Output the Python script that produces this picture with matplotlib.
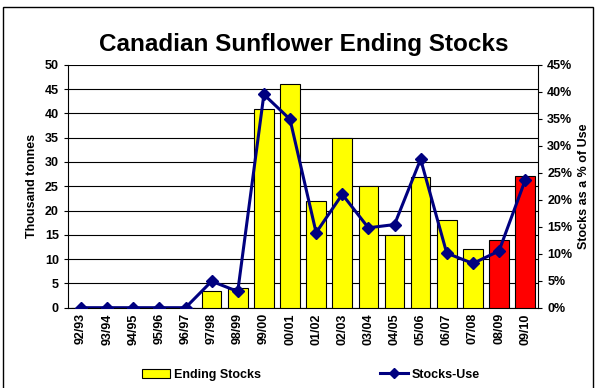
import matplotlib.pyplot as plt
from matplotlib.patches import Rectangle
from matplotlib.ticker import PercentFormatter

plt.rcParams['font.family'] = ['Liberation Sans', 'DejaVu Sans']
plt.rcParams['font.weight'] = 'bold'

# crop years, ending stocks (thousand tonnes) and stocks-to-use (%)
years = ['92/93', '93/94', '94/95', '95/96', '96/97', '97/98', '98/99', '99/00',
         '00/01', '01/02', '02/03', '03/04', '04/05', '05/06', '06/07', '07/08',
         '08/09', '09/10']
stocks = [0, 0, 0, 0, 0, 3.5, 4, 41, 46, 22, 35, 25, 15, 27, 18, 12, 14, 27.2]
stocks_use = [0, 0, 0, 0, 0, 4.9, 3.0, 39.5, 34.9, 13.9, 21.0, 14.8, 15.4,
              27.5, 10.1, 8.2, 10.5, 23.6]
forecast = ['08/09', '09/10']

bar_colors = ['red' if y in forecast else 'yellow' for y in years]

fig = plt.figure(figsize=(5.96, 3.88), dpi=100)
ax = fig.add_axes([0.114, 0.207, 0.789, 0.626])

x = range(len(years))
bars = ax.bar(x, stocks, width=0.75, color=bar_colors, edgecolor='black',
              linewidth=0.8, zorder=3)
ax.set_xlim(-0.5, len(years) - 0.5)
ax.set_ylim(0, 50)
ax.set_yticks(range(0, 51, 5))
ax.grid(axis='y', color='black', linewidth=0.8, zorder=0)
ax.set_xticks(list(x))
ax.set_xticklabels(years, rotation=90, fontsize=9, fontweight='bold')
ax.tick_params(axis='x', length=0, pad=4)
ax.tick_params(axis='y', labelsize=9, length=3, direction='out')
ax.set_ylabel('Thousand tonnes', fontsize=9, fontweight='bold', labelpad=5)
for s in ['top', 'right']:
    ax.spines[s].set_visible(False)
ax.spines['left'].set_linewidth(0.8)
ax.spines['bottom'].set_linewidth(0.8)

ax2 = ax.twinx()
line, = ax2.plot(x, stocks_use, color='#000080', linewidth=2.2, marker='D',
                 markersize=6.5, zorder=4)
ax2.set_ylim(0, 45)
ax2.set_yticks(range(0, 46, 5))
ax2.yaxis.set_major_formatter(PercentFormatter(decimals=0))
ax2.tick_params(axis='y', labelsize=9, length=3, direction='out')
ax2.set_ylabel('Stocks as a % of Use', fontsize=9, fontweight='bold', labelpad=4)
for s in ['top', 'left', 'bottom']:
    ax2.spines[s].set_visible(False)
ax2.spines['right'].set_linewidth(0.8)

# make sure every tick label is drawn bold
for lbl in ax.get_yticklabels() + ax2.get_yticklabels():
    lbl.set_fontweight('bold')

fig.suptitle('Canadian Sunflower Ending Stocks', x=0.51, y=0.915,
             fontsize=17.5, fontweight='bold')

fig.legend([bars, line], ['Ending Stocks', 'Stocks-Use'], loc='center',
           bbox_to_anchor=(0.522, 0.034), ncol=2, frameon=False, fontsize=9,
           columnspacing=9.5, handlelength=2.25, handletextpad=0.3,
           markerscale=0.8)

fig.patches.append(Rectangle((0.005, -0.05), 0.99, 1.032, transform=fig.transFigure,
                             fill=False, edgecolor='black', linewidth=1))

fig.savefig('out.png', dpi=100)
